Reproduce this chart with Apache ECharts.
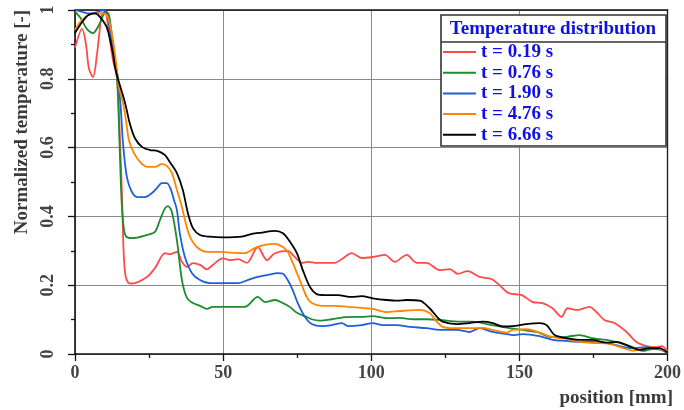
<!DOCTYPE html>
<html>
<head>
<meta charset="utf-8">
<script src="https://cdn.jsdelivr.net/npm/echarts@6/dist/echarts.min.js"></script>
<style>
html,body{margin:0;padding:0;background:#fff;}
#chart{width:684px;height:410px;}
</style>
</head>
<body>
<div id="chart"></div>
<script>
// ---- data (position mm, normalized temperature) ----
const seriesNames = ['t = 0.19 s', 't = 0.76 s', 't = 1.90 s', 't = 4.76 s', 't = 6.66 s'];
const xTicks = [0, 50, 100, 150, 200];
const yTicks = [0, 0.2, 0.4, 0.6, 0.8, 1];

const red = [
  [0,0.89],[2.4,0.945],[3.7,0.90],[4.7,0.83],[6.1,0.805],[7.4,0.87],[9.1,0.99],[10.1,0.995],
  [11.5,0.93],[12.8,0.855],[14.2,0.80],[15.2,0.62],[15.9,0.45],[16.4,0.30],[17.0,0.23],[18,0.207],
  [19.2,0.205],[24.3,0.224],[27.0,0.25],[30.4,0.293],[32.0,0.29],[34.4,0.297],[36.1,0.268],
  [37.8,0.253],[39.8,0.264],[42.2,0.259],[44.5,0.246],[46.5,0.259],[49.9,0.278],[52.3,0.273],
  [55.0,0.276],[58.0,0.265],[61.7,0.311],[64.8,0.273],[67.5,0.293],[71.8,0.30],[74.2,0.282],
  [76.6,0.265],[78.6,0.268],[81.6,0.265],[84.3,0.265],[87.7,0.265],[90.1,0.276],[93.4,0.293],
  [96.8,0.279],[100.5,0.282],[104.6,0.288],[107.9,0.268],[112.0,0.288],[115.3,0.265],[118.7,0.265],
  [123.1,0.244],[126.5,0.247],[129.2,0.233],[132.5,0.241],[136.6,0.224],[140.6,0.218],[143.3,0.20],
  [146.4,0.177],[150.8,0.171],[154.5,0.151],[157.8,0.148],[161.2,0.133],[164.2,0.108],[166.3,0.133],
  [169.6,0.128],[173.7,0.137],[176.0,0.122],[178.7,0.099],[182.1,0.09],[186.2,0.064],[189.5,0.035],
  [192.9,0.023],[196.3,0.02],[198.0,0.023],[200,0.009]
];
const green = [
  [0,0.995],[2,0.975],[4,0.945],[6.1,0.933],[8,0.955],[10.5,0.995],[11.5,0.985],[12.8,0.90],
  [14.2,0.80],[15.0,0.62],[15.7,0.45],[16.4,0.37],[17.2,0.342],[19.2,0.337],[24.3,0.346],[27.0,0.355],
  [28.7,0.39],[30.4,0.424],[31.4,0.43],[32.7,0.413],[34.4,0.331],[36.1,0.215],[37.8,0.163],
  [39.8,0.148],[42.2,0.14],[44.5,0.131],[46.5,0.137],[49.9,0.137],[57.3,0.137],[61.7,0.166],
  [64.1,0.151],[67.5,0.157],[70.2,0.148],[72.5,0.137],[74.9,0.12],[77.6,0.11],[79.9,0.101],
  [82.6,0.097],[86.7,0.101],[91.1,0.107],[96.8,0.108],[100.5,0.11],[105.2,0.104],[109.6,0.105],
  [114.0,0.101],[118.7,0.101],[123.1,0.099],[129.8,0.094],[134.2,0.094],[139.0,0.087],[143.3,0.08],
  [146.7,0.075],[150.8,0.07],[155.8,0.064],[161.2,0.049],[165.9,0.05],[170.3,0.055],[174.7,0.046],
  [179.4,0.041],[183.8,0.032],[188.2,0.02],[191.6,0.009],[195.0,0.014],[198.3,0.012],[200,0.003]
];
const blue = [
  [0,1.0],[3,0.993],[5,0.99],[8,0.995],[9.4,1.0],[10.8,0.99],[12.5,0.90],[14.5,0.80],[15.2,0.74],
  [15.5,0.709],[16.2,0.613],[17.5,0.515],[19.2,0.471],[21.2,0.456],[23.6,0.456],[26.0,0.468],
  [27.7,0.483],[29.3,0.497],[31.0,0.497],[32.4,0.477],[33.4,0.448],[34.4,0.419],[35.4,0.35],
  [37.1,0.282],[39.5,0.235],[42.2,0.215],[45.5,0.206],[49.9,0.206],[55.0,0.206],[58.3,0.215],
  [61.7,0.224],[65.1,0.23],[68.5,0.235],[70.2,0.233],[71.8,0.215],[73.5,0.186],[75.2,0.148],
  [77.6,0.108],[79.9,0.087],[83.3,0.081],[86.7,0.084],[90.1,0.09],[92.1,0.081],[96.8,0.084],
  [100.5,0.09],[103.9,0.084],[108.6,0.084],[113.0,0.079],[118.7,0.075],[123.1,0.07],[128.8,0.07],
  [133.2,0.064],[136.6,0.075],[141.0,0.064],[145.7,0.058],[147.7,0.055],[151.1,0.058],[156.8,0.052],
  [161.2,0.041],[165.9,0.038],[170.3,0.035],[174.7,0.035],[179.4,0.032],[183.8,0.023],[188.2,0.017],
  [192.9,0.02],[196.3,0.017],[200,0.003]
];
const orange = [
  [0,0.942],[2.4,0.971],[6.1,0.99],[8.4,0.99],[10.8,0.985],[12.8,0.913],[14.5,0.80],[14.8,0.776],
  [16.2,0.73],[17.2,0.68],[18.2,0.622],[19.9,0.584],[22.3,0.555],[24.6,0.544],[27.0,0.544],
  [29.3,0.552],[31.0,0.547],[32.7,0.526],[34.4,0.477],[36.1,0.427],[37.4,0.38],[38.8,0.341],
  [41.1,0.311],[44.5,0.297],[48.9,0.297],[50.6,0.296],[57.3,0.293],[60.7,0.308],[64.1,0.317],
  [67.5,0.32],[70.2,0.311],[71.8,0.297],[73.5,0.265],[75.9,0.215],[78.2,0.166],[79.9,0.148],
  [83.3,0.14],[87.7,0.14],[92.1,0.137],[96.8,0.134],[100.5,0.131],[105.2,0.122],[109.6,0.125],
  [116.4,0.128],[119.7,0.119],[122.1,0.094],[124.1,0.079],[127.5,0.075],[133.2,0.075],[137.6,0.076],
  [141.0,0.07],[145.7,0.062],[147.7,0.07],[152.4,0.072],[156.8,0.062],[161.2,0.049],[165.9,0.044],
  [170.3,0.035],[174.7,0.032],[179.4,0.031],[183.8,0.021],[188.2,0.01],[191.6,0.014],[195.0,0.02],
  [198.3,0.012],[200,0.004]
];
const black = [
  [0,0.933],[2.4,0.965],[4.4,0.985],[6.7,0.99],[8.4,0.98],[10.8,0.948],[12.8,0.874],[13.5,0.835],
  [14.5,0.80],[16.9,0.73],[18.5,0.67],[20.2,0.628],[22.6,0.602],[25.3,0.593],[28.0,0.59],[30.4,0.578],
  [32.0,0.558],[34.4,0.526],[36.4,0.477],[38.1,0.41],[39.8,0.366],[42.2,0.346],[45.5,0.341],
  [49.9,0.339],[56.3,0.341],[59.7,0.349],[63.1,0.353],[67.5,0.358],[70.2,0.351],[72.5,0.327],
  [74.9,0.293],[76.9,0.244],[79.3,0.195],[81.6,0.174],[84.3,0.171],[88.7,0.171],[93.4,0.166],
  [96.8,0.168],[100.5,0.162],[105.2,0.157],[108.6,0.155],[112.0,0.157],[116.4,0.155],[119.7,0.133],
  [122.1,0.109],[124.1,0.094],[128.8,0.087],[133.2,0.09],[137.6,0.094],[141.0,0.09],[144.4,0.08],
  [147.7,0.081],[152.4,0.087],[156.8,0.09],[159.2,0.084],[161.9,0.055],[165.9,0.046],[170.3,0.041],
  [174.7,0.041],[179.4,0.033],[182.8,0.035],[186.2,0.026],[190.5,0.012],[193.9,0.017],[197.3,0.017],
  [200,0.004]
];
const seriesData = [red, green, blue, orange, black];
const seriesColors = ['#ff4a4a', '#1e8c2e', '#1f5fd8', '#ff8400', '#000000'];

const FONT = '"Liberation Serif", "Times New Roman", serif';

const chart = echarts.init(document.getElementById('chart'), null, {renderer: 'canvas'});
const option = {
  animation: false,
  backgroundColor: '#fff',
  grid: {left: 75, right: 16, top: 10, bottom: 56},
  xAxis: [{
    type: 'value', min: xTicks[0], max: xTicks[xTicks.length - 1], interval: 50,
    axisLine: {show: true, lineStyle: {color: '#111', width: 1.6}},
    axisTick: {show: true, length: 7, lineStyle: {color: '#111', width: 1.3}},
    minorTick: {show: true, splitNumber: 2, length: 4, lineStyle: {color: '#111', width: 1.3}},
    splitLine: {show: true, lineStyle: {color: '#8a8a8a', width: 1}},
    axisLabel: {margin: 10, color: '#444', fontFamily: FONT, fontWeight: 'bold', fontSize: 18}
  }, {
    type: 'value', position: 'top', min: 0, max: 200,
    axisLine: {show: true, onZero: false, lineStyle: {color: '#111', width: 1.6}},
    axisTick: {show: false}, axisLabel: {show: false}, splitLine: {show: false}
  }],
  yAxis: [{
    type: 'value', min: yTicks[0], max: yTicks[yTicks.length - 1], interval: 0.2,
    axisLine: {show: true, lineStyle: {color: '#111', width: 1.6}},
    axisTick: {show: true, length: 7, lineStyle: {color: '#111', width: 1.3}},
    minorTick: {show: true, splitNumber: 2, length: 4, lineStyle: {color: '#111', width: 1.3}},
    splitLine: {show: true, lineStyle: {color: '#8a8a8a', width: 1}},
    axisLabel: {rotate: 90, margin: 18, color: '#444', fontFamily: FONT, fontWeight: 'bold', fontSize: 18,
      formatter: v => String(+v.toFixed(1))}
  }, {
    type: 'value', position: 'right', min: 0, max: 1,
    axisLine: {show: true, onZero: false, lineStyle: {color: '#222', width: 1.4}},
    axisTick: {show: false}, axisLabel: {show: false}, splitLine: {show: false}
  }],
  legend: {
    orient: 'vertical', left: 443, top: 42, padding: 0, itemGap: 0.7, z: 20,
    itemWidth: 33, itemHeight: 2, icon: 'rect',
    textStyle: {color: '#1010e6', fontFamily: FONT, fontWeight: 'bold', fontSize: 19, lineHeight: 20},
    data: seriesNames
  },
  graphic: [
    {type: 'rect', z: 5, shape: {x: 441, y: 15, width: 225, height: 131},
      style: {fill: '#fff', stroke: '#333', lineWidth: 1.6}},
    {type: 'line', z: 6, shape: {x1: 441, y1: 42, x2: 666, y2: 42},
      style: {stroke: '#333', lineWidth: 1.4}},
    {type: 'text', z: 6, x: 553, y: 29,
      style: {text: 'Temperature distribution', fill: '#1010e6', font: 'bold 19px ' + FONT,
        textAlign: 'center', textVerticalAlign: 'middle'}},
    {type: 'text', z: 6, x: 22, y: 122, rotation: Math.PI / 2,
      style: {text: 'Normalized temperature [-]', fill: '#3a3a3a', font: 'bold 19px ' + FONT,
        textAlign: 'center', textVerticalAlign: 'middle'}},
    {type: 'text', z: 6, x: 673, y: 398,
      style: {text: 'position [mm]', fill: '#3a3a3a', font: 'bold 19px ' + FONT,
        textAlign: 'right', textVerticalAlign: 'middle'}}
  ],
  series: seriesNames.map((name, i) => ({
    name: name, type: 'line', data: seriesData[i], xAxisIndex: 0, yAxisIndex: 0,
    showSymbol: false, smooth: 0.3, color: seriesColors[i],
    lineStyle: {width: 1.8, color: seriesColors[i]}, z: 3
  }))
};
chart.setOption(option);
</script>
</body>
</html>
